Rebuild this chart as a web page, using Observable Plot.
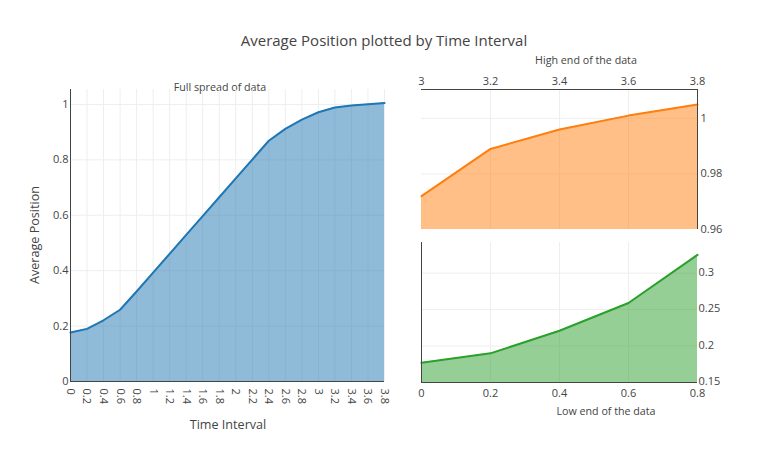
<!DOCTYPE html>
<html>
<head>
<meta charset="utf-8">
<script src="https://cdn.jsdelivr.net/npm/d3@7"></script>
<script src="https://cdn.jsdelivr.net/npm/@observablehq/plot@0.6"></script>
<style>
  html, body { margin: 0; padding: 0; background: #fff; }
  #wrap { position: relative; width: 768px; height: 453px; font-family: "Open Sans", sans-serif; color: #444; overflow: hidden; }
  .abs { position: absolute; }
  .lbl { position: absolute; transform: translate(-50%, -50%); white-space: nowrap; }
</style>
</head>
<body>
<div id="wrap">
  <div class="lbl" style="left:384px; top:40px; font-size:15px;">Average Position plotted by Time Interval</div>
  <div class="lbl" style="left:220px; top:87px; font-size:10.7px;">Full spread of data</div>
  <div class="lbl" style="left:586px; top:60px; font-size:10.7px;">High end of the data</div>
  <div class="lbl" style="left:606px; top:411px; font-size:10.7px;">Low end of the data</div>
  <div class="lbl" style="left:228px; top:424px; font-size:12.6px;">Time Interval</div>
  <div class="lbl" style="left:34px; top:235px; font-size:12.6px; transform: translate(-50%, -50%) rotate(-90deg);">Average Position</div>
  <div id="full" class="abs" style="left:0; top:0;"></div>
  <div id="high" class="abs" style="left:400px; top:0;"></div>
  <div id="low" class="abs" style="left:400px; top:236px;"></div>
</div>
<script>
const timeInterval = [0, 0.2, 0.4, 0.6, 0.8, 1, 1.2, 1.4, 1.6, 1.8, 2, 2.2, 2.4, 2.6, 2.8, 3, 3.2, 3.4, 3.6, 3.8];
const avgPosition = [0.177, 0.190, 0.221, 0.259, 0.325, 0.393, 0.461, 0.529, 0.597, 0.665, 0.733, 0.801, 0.869, 0.912, 0.945, 0.972, 0.989, 0.996, 1.001, 1.005];

const fullXTicks = [0, 0.2, 0.4, 0.6, 0.8, 1, 1.2, 1.4, 1.6, 1.8, 2, 2.2, 2.4, 2.6, 2.8, 3, 3.2, 3.4, 3.6, 3.8];
const fullYTicks = [0, 0.2, 0.4, 0.6, 0.8, 1];
const highXTicks = [3, 3.2, 3.4, 3.6, 3.8];
const highYTicks = [0.96, 0.98, 1];
const lowXTicks = [0, 0.2, 0.4, 0.6, 0.8];
const lowYTicks = [0.15, 0.2, 0.25, 0.3];

const full = timeInterval.map((t, i) => ({t, v: avgPosition[i]}));
const high = full.filter(d => d.t >= 3);
const low = full.filter(d => d.t <= 0.8);

const fmt = d => String(+d.toFixed(2));
const style = {fontFamily: "Open Sans", fontSize: "11px", color: "#444", background: "transparent", overflow: "visible"};
const grid = {stroke: "#eee", strokeOpacity: 1};

const fullPlot = Plot.plot({
  width: 400, height: 453,
  marginLeft: 70, marginRight: 16, marginTop: 89, marginBottom: 72,
  style,
  x: {domain: [0, 3.8]},
  y: {domain: [0, 1.054]},
  marks: [
    Plot.gridX(fullXTicks.slice(1), grid),
    Plot.gridY(fullYTicks.slice(1), grid),
    Plot.areaY(full, {x: "t", y: "v", fill: "#1f77b4", fillOpacity: 0.5}),
    Plot.line(full, {x: "t", y: "v", stroke: "#1f77b4", strokeWidth: 2}),
    Plot.axisX(fullXTicks, {tickSize: 0, tickPadding: 7, tickRotate: 90, tickFormat: fmt, label: null}),
    Plot.axisY(fullYTicks, {tickSize: 0, tickPadding: 2, tickFormat: fmt, label: null}),
    Plot.ruleX([0], {stroke: "#444"}),
    Plot.ruleY([0], {stroke: "#444"})
  ]
});
document.getElementById("full").append(fullPlot);

const highPlot = Plot.plot({
  width: 368, height: 240,
  marginLeft: 21, marginRight: 71, marginTop: 89, marginBottom: 11,
  style,
  x: {domain: [3, 3.8]},
  y: {domain: [0.96, 1.0104]},
  marks: [
    Plot.gridX(highXTicks.slice(1, -1), grid),
    Plot.gridY(highYTicks.slice(1), grid),
    Plot.areaY(high, {x: "t", y1: 0.96, y2: "v", fill: "#ff7f0e", fillOpacity: 0.5}),
    Plot.line(high, {x: "t", y: "v", stroke: "#ff7f0e", strokeWidth: 2}),
    Plot.axisX(highXTicks, {anchor: "top", tickSize: 0, tickPadding: 5, tickFormat: fmt, label: null}),
    Plot.axisY(highYTicks, {anchor: "right", tickSize: 0, tickPadding: 3, tickFormat: fmt, label: null}),
    Plot.ruleY([1.0104], {stroke: "#444"}),
    Plot.ruleX([3.8], {stroke: "#444"})
  ]
});
document.getElementById("high").append(highPlot);

const lowPlot = Plot.plot({
  width: 368, height: 217,
  marginLeft: 21, marginRight: 71, marginTop: 6, marginBottom: 71,
  style,
  x: {domain: [0, 0.8]},
  y: {domain: [0.15, 0.342]},
  marks: [
    Plot.gridX(lowXTicks.slice(1, -1), grid),
    Plot.gridY(lowYTicks.slice(1), grid),
    Plot.areaY(low, {x: "t", y1: 0.15, y2: "v", fill: "#2ca02c", fillOpacity: 0.5}),
    Plot.line(low, {x: "t", y: "v", stroke: "#2ca02c", strokeWidth: 2}),
    Plot.axisX(lowXTicks, {tickSize: 0, tickPadding: 7, tickFormat: fmt, label: null}),
    Plot.axisY(lowYTicks, {anchor: "right", tickSize: 0, tickPadding: 1, dy: -1, tickFormat: fmt, label: null}),
    Plot.ruleX([0], {stroke: "#444"}),
    Plot.ruleY([0.15], {stroke: "#444"})
  ]
});
document.getElementById("low").append(lowPlot);
</script>
</body>
</html>
